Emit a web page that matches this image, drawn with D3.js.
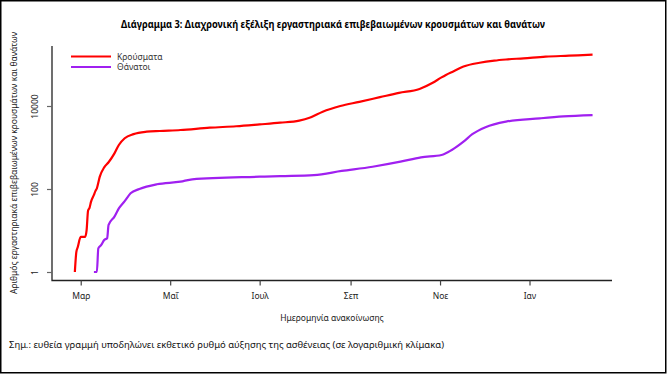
<!DOCTYPE html>
<html>
<head>
<meta charset="utf-8">
<script src="https://cdn.jsdelivr.net/npm/d3@7"></script>
<style>
  body { margin: 0; background: #fff; }
  svg { display: block; font-family: "Noto Sans", "Open Sans", sans-serif; }
</style>
</head>
<body>
<svg id="chart"></svg>
<script>
// cumulative confirmed cases (Κρούσματα)
const caseDates = ["2020-02-26","2020-02-27","2020-02-28","2020-03-01","2020-03-02","2020-03-04","2020-03-05",
  "2020-03-06","2020-03-07","2020-03-08","2020-03-10","2020-03-11","2020-03-12","2020-03-14","2020-03-17",
  "2020-03-20","2020-03-24","2020-03-27","2020-03-31","2020-04-06","2020-04-15","2020-04-24","2020-05-08",
  "2020-05-28","2020-06-15","2020-07-01","2020-07-15","2020-07-28","2020-08-04","2020-08-13","2020-08-25",
  "2020-09-07","2020-09-21","2020-10-04","2020-10-18","2020-10-27","2020-11-02","2020-11-05","2020-11-10",
  "2020-11-17","2020-11-28","2020-12-08","2020-12-16","2020-12-28","2021-01-12","2021-01-28","2021-02-13"];
const caseValues = [1, 3, 4, 7, 7, 7, 10, 30, 35, 49, 72, 89, 104, 198, 333, 440, 720, 1150, 1670, 2100, 2400,
  2500, 2640, 3000, 3250, 3600, 3960, 4450, 5200, 7300, 10000, 12600, 16300, 20700, 25700, 36300, 49000, 56000,
  68000, 89000, 110000, 124000, 132000, 141000, 155000, 163000, 172000];

// cumulative deaths (Θάνατοι)
const deathDates = ["2020-03-10","2020-03-12","2020-03-13","2020-03-15","2020-03-17","2020-03-19","2020-03-20",
  "2020-03-24","2020-03-27","2020-03-31","2020-04-04","2020-04-10","2020-04-22","2020-05-08","2020-05-16",
  "2020-07-01","2020-07-15","2020-08-07","2020-08-26","2020-09-16","2020-10-05","2020-10-19","2020-11-02",
  "2020-11-09","2020-11-17","2020-11-23","2020-12-02","2020-12-16","2021-01-08","2021-01-24","2021-02-13"];
const deathValues = [1, 1, 3.7, 4.5, 5.9, 6.5, 13.6, 21.6, 34, 51, 79, 100, 130, 150, 171, 198, 205, 217, 272,
  344, 455, 580, 660, 870, 1380, 2090, 3080, 4200, 5040, 5600, 6050];

const tickDates = ["2020-03-01","2020-05-01","2020-07-01","2020-09-01","2020-11-01","2021-01-01"];
const tickLabels = ["Μαρ", "Μαΐ", "Ιουλ", "Σεπ", "Νοε", "Ιαν"];
const yTicks = [1, 100, 10000];

const seriesNames = ["Κρούσματα", "Θάνατοι"];
const seriesColors = ["#ff0000", "#a020f0"];

const width = 667, height = 374;
const plot = {left: 52, right: 612, top: 46, bottom: 280.5};

const parse = d3.utcParse("%Y-%m-%d");

const svg = d3.select("#chart")
    .attr("width", width)
    .attr("height", height);

svg.append("rect")
    .attr("x", 0.75).attr("y", 0.75)
    .attr("width", width - 2).attr("height", height - 2)
    .attr("fill", "#fff")
    .attr("stroke", "#000")
    .attr("stroke-width", 1.5);

const x = d3.scaleUtc()
    .domain([Date.UTC(2020, 1, 10, 10), Date.UTC(2021, 1, 26, 6)])
    .range([plot.left, plot.right]);

const y = d3.scaleLog()
    .domain([0.624, 279000])
    .range([plot.bottom, plot.top]);

// L shaped box
svg.append("path")
    .attr("d", "M" + plot.left + "," + plot.top + "V" + plot.bottom + "H" + plot.right)
    .attr("fill", "none")
    .attr("stroke", "#222")
    .attr("stroke-width", 1.3);

const xAxis = d3.axisBottom(x)
    .tickValues(tickDates.map(parse))
    .tickFormat(function(d, i) { return tickLabels[i]; })
    .tickSize(5)
    .tickPadding(7);

const gx = svg.append("g")
    .attr("transform", "translate(0," + plot.bottom + ")")
    .call(xAxis);
gx.select(".domain").remove();
gx.selectAll(".tick line").attr("stroke", "#444").attr("stroke-width", 1.2);
gx.selectAll(".tick text")
    .attr("fill", "#222")
    .style("font-size", "8.5px")
    .style("font-family", "'Noto Sans', sans-serif");

const yAxis = d3.axisLeft(y)
    .tickValues(yTicks)
    .tickFormat(d3.format("d"))
    .tickSize(5);

const gy = svg.append("g")
    .attr("transform", "translate(" + plot.left + ",0)")
    .call(yAxis);
gy.select(".domain").remove();
gy.selectAll(".tick line").attr("stroke", "#666").attr("stroke-width", 1.2);
gy.selectAll(".tick text")
    .attr("x", 0)
    .attr("dy", 0)
    .attr("transform", "translate(-14,0) rotate(-90)")
    .attr("text-anchor", "middle")
    .attr("fill", "#222")
    .style("font-size", "8.5px")
    .style("font-family", "'Noto Sans', sans-serif");

// lines
const line = d3.line()
    .curve(d3.curveMonotoneX)
    .x(function(d) { return x(d.date); })
    .y(function(d) { return y(d.value); });

const series = [
    caseDates.map(function(d, i) { return {date: parse(d), value: caseValues[i]}; }),
    deathDates.map(function(d, i) { return {date: parse(d), value: deathValues[i]}; })
];

svg.append("g")
    .selectAll("path")
    .data(series)
    .enter().append("path")
    .attr("d", line)
    .attr("fill", "none")
    .attr("stroke", function(d, i) { return seriesColors[i]; })
    .attr("stroke-width", 2.2)
    .attr("stroke-linejoin", "round");

// legend
const legend = svg.append("g")
    .selectAll("g")
    .data(seriesNames)
    .enter().append("g")
    .attr("transform", function(d, i) { return "translate(71," + (56.5 + i * 10.5) + ")"; });

legend.append("line")
    .attr("x1", 0).attr("x2", 40)
    .attr("stroke", function(d, i) { return seriesColors[i]; })
    .attr("stroke-width", 2.2);

legend.append("text")
    .attr("x", 46)
    .attr("y", 3)
    .attr("fill", "#333")
    .style("font-size", "8.5px")
    .text(function(d) { return d; });

// titles
svg.append("text")
    .attr("x", 333)
    .attr("y", 28)
    .attr("text-anchor", "middle")
    .attr("textLength", 424)
    .attr("lengthAdjust", "spacingAndGlyphs")
    .style("font-size", "10.5px")
    .style("font-weight", "bold")
    .text("Διάγραμμα 3: Διαχρονική εξέλιξη εργαστηριακά επιβεβαιωμένων κρουσμάτων και θανάτων");

svg.append("text")
    .attr("x", 332)
    .attr("y", 321)
    .attr("text-anchor", "middle")
    .attr("fill", "#222")
    .style("font-size", "8.5px")
    .text("Ημερομηνία ανακοίνωσης");

svg.append("text")
    .attr("transform", "translate(17,163) rotate(-90)")
    .attr("text-anchor", "middle")
    .attr("textLength", 262)
    .attr("lengthAdjust", "spacingAndGlyphs")
    .attr("fill", "#222")
    .style("font-size", "8.5px")
    .text("Αριθμός εργαστηριακά επιβεβαιωμένων κρουσμάτων και θανάτων");

svg.append("text")
    .attr("x", 9)
    .attr("y", 348)
    .attr("textLength", 435)
    .attr("lengthAdjust", "spacingAndGlyphs")
    .attr("fill", "#111")
    .style("font-size", "9.5px")
    .text("Σημ.: ευθεία γραμμή υποδηλώνει εκθετικό ρυθμό αύξησης της ασθένειας (σε λογαριθμική κλίμακα)");
</script>
</body>
</html>
